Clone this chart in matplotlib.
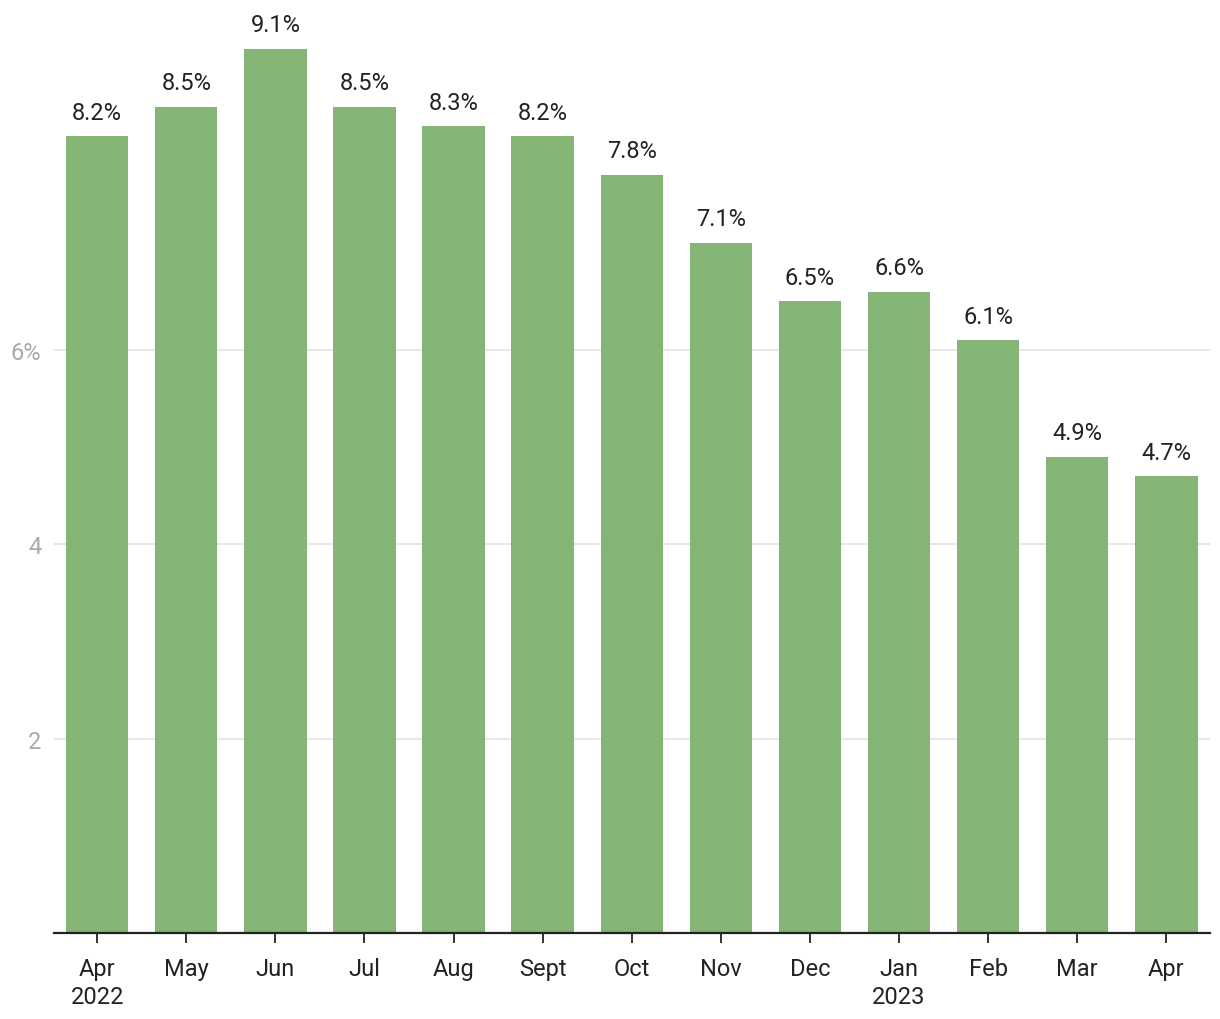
import matplotlib.pyplot as plt

months = ['Apr\n2022', 'May', 'Jun', 'Jul', 'Aug', 'Sept', 'Oct', 'Nov', 'Dec',
          'Jan\n2023', 'Feb', 'Mar', 'Apr']
values = [8.2, 8.5, 9.1, 8.5, 8.3, 8.2, 7.8, 7.1, 6.5, 6.6, 6.1, 4.9, 4.7]
yticks = [2, 4, 6]
ytick_labels = ['2', '4', '6%']

plt.rcParams['font.family'] = ['Roboto', 'DejaVu Sans']

fig = plt.figure(figsize=(12.2, 10.2), dpi=100)
ax = fig.add_axes([54 / 1220, 86 / 1020, (1210 - 54) / 1220, (934 - 1) / 1020])

x = list(range(len(values)))
bars = ax.bar(x, values, width=0.7, color='#84b574', zorder=2)

# value labels above bars
for xi, v in zip(x, values):
    ax.annotate(f'{v}%', (xi, v), xytext=(0, 9), textcoords='offset points',
                ha='center', va='bottom', fontsize=17, color='#222222')

ax.set_xlim(-0.485, 12.49)
ax.set_ylim(0, 9.6)
ax.set_xticks(x)
ax.set_xticklabels(months, fontsize=17, color='#222222', linespacing=1.3)
ax.set_yticks(yticks)
ax.set_yticklabels(ytick_labels, fontsize=17, color='#aaaaaa')

ax.grid(axis='y', color='#e3e3e3', linewidth=1.2, zorder=0)
ax.tick_params(axis='y', length=0, pad=9)
ax.tick_params(axis='x', length=7, width=1.3, color='#222222', pad=10)

for side in ['top', 'right', 'left']:
    ax.spines[side].set_visible(False)
ax.spines['bottom'].set_linewidth(1.6)
ax.spines['bottom'].set_color('#222222')

fig.savefig('out.png', dpi=100)
